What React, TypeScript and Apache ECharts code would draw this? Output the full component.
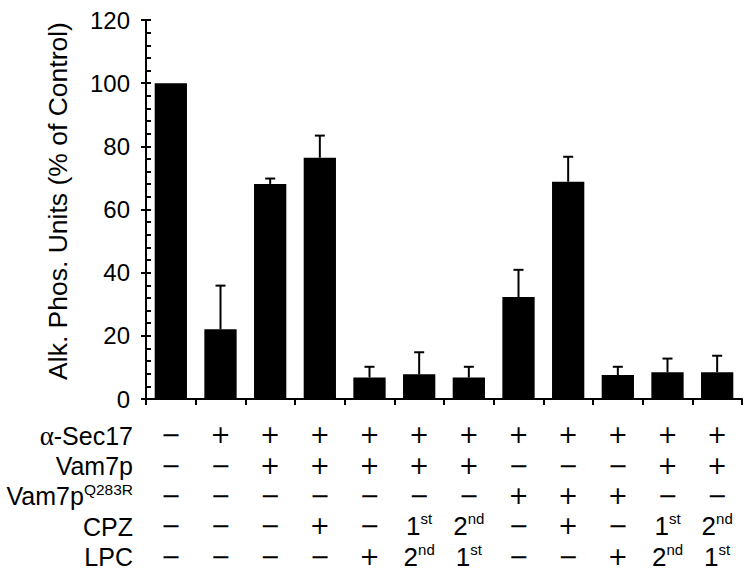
import React, { useEffect, useRef } from 'react';
import * as echarts from 'echarts';

const categories = ['1', '2', '3', '4', '5', '6', '7', '8', '9', '10', '11', '12'];
const values = [100, 22.1, 68.1, 76.4, 6.8, 7.8, 6.8, 32.3, 68.8, 7.6, 8.5, 8.5];
const errors = [0, 13.8, 1.7, 7.0, 3.4, 7.0, 3.4, 8.6, 7.9, 2.6, 4.3, 5.2];
const yTicks = { min: 0, max: 120, interval: 20 };
const yTitle = 'Alk. Phos. Units (% of Control)';

const rowLabels = ['{g|α}{m|-Sec17}', '{m|Vam7p}', '{m|Vam7p}{sup|Q283R}', '{m|CPZ}', '{m|LPC}'];
const rowSec17 = ['−', '+', '+', '+', '+', '+', '+', '+', '+', '+', '+', '+'];
const rowVam7p = ['−', '−', '+', '+', '+', '+', '+', '−', '−', '−', '+', '+'];
const rowQ283R = ['−', '−', '−', '−', '−', '−', '−', '+', '+', '+', '−', '−'];
const rowCPZ = ['−', '−', '−', '+', '−', '1st', '2nd', '−', '+', '−', '1st', '2nd'];
const rowLPC = ['−', '−', '−', '−', '+', '2nd', '1st', '−', '−', '+', '2nd', '1st'];
const tableRows = [rowSec17, rowVam7p, rowQ283R, rowCPZ, rowLPC];

const FONT = "'Liberation Sans', Arial, sans-serif";
const SIGN_FONT = "'DejaVu Sans', 'Liberation Sans', sans-serif";
const LINE_H = 30.4;
const FIRST_ROW_Y = 435.5;

function token(s: string): string {
  if (s === '+' || s === '−') return `{s|${s}}`;
  const m = s.match(/^(\d)(\D+)$/);
  if (m) return `{n|${m[1]}}{p|${m[2]}}`;
  return `{s|${s}}`;
}

export default function App() {
  const ref = useRef<HTMLDivElement>(null);
  useEffect(() => {
    if (!ref.current) return;
    const chart = echarts.init(ref.current, undefined, { renderer: 'svg' });
    const option: any = {
      animation: false,
      backgroundColor: '#fff',
      grid: { left: 146, right: 8, top: 20, bottom: 177, outerBoundsMode: 'none' },
      xAxis: {
        type: 'category',
        data: categories,
        boundaryGap: true,
        axisLine: { show: true, lineStyle: { color: '#000', width: 2 } },
        axisTick: { show: true, length: 6, lineStyle: { color: '#000', width: 2 } },
        axisLabel: {
          interval: 0,
          margin: 21,
          color: '#000',
          fontFamily: FONT,
          formatter: (_v: string, idx: number) => tableRows.map((r) => token(r[idx])).join('\n'),
          rich: {
            s: { fontSize: 24, fontFamily: SIGN_FONT, color: '#000', lineHeight: LINE_H },
            n: { fontSize: 26, fontFamily: FONT, color: '#000', lineHeight: LINE_H },
            p: { fontSize: 15, fontFamily: FONT, color: '#000', lineHeight: 25, verticalAlign: 'top' },
          },
        },
        splitLine: { show: false },
      },
      yAxis: [
        {
          type: 'value',
          min: yTicks.min,
          max: yTicks.max,
          interval: yTicks.interval,
          axisLine: { show: true, lineStyle: { color: '#000', width: 2 } },
          axisTick: { show: true, inside: true, length: 5, lineStyle: { color: '#000', width: 2 } },
          minorTick: { show: true, splitNumber: 5, length: 5, lineStyle: { color: '#000', width: 2 } },
          axisLabel: { color: '#000', fontSize: 24, fontFamily: FONT, margin: 16 },
          splitLine: { show: false },
        },
        {
          type: 'value',
          position: 'left',
          min: yTicks.min,
          max: yTicks.max,
          interval: yTicks.interval,
          axisLine: { show: false },
          axisTick: { show: true, inside: false, length: 5, lineStyle: { color: '#000', width: 2 } },
          axisLabel: { show: false },
          splitLine: { show: false },
        },
      ],
      series: [
        {
          type: 'bar',
          data: values,
          barWidth: '65%',
          itemStyle: { color: '#000' },
          z: 2,
        },
        {
          type: 'custom',
          z: 3,
          data: categories.map((_c, i) => [i, values[i], errors[i]]),
          renderItem: (_params: any, api: any) => {
            const x = api.value(0);
            const v = api.value(1);
            const e = api.value(2);
            if (!e) return null;
            const p0 = api.coord([x, v]);
            const p1 = api.coord([x, v + e]);
            return {
              type: 'group',
              children: [
                { type: 'line', shape: { x1: p0[0], y1: p0[1], x2: p1[0], y2: p1[1] }, style: { stroke: '#000', lineWidth: 2 } },
                { type: 'line', shape: { x1: p1[0] - 5, y1: p1[1], x2: p1[0] + 5, y2: p1[1] }, style: { stroke: '#000', lineWidth: 2 } },
              ],
            };
          },
        },
      ],
      graphic: [
        {
          type: 'text',
          x: 58,
          y: 201,
          rotation: Math.PI / 2,
          style: { text: yTitle, font: `26.5px ${FONT}`, fill: '#000', textAlign: 'center', textVerticalAlign: 'middle' },
        },
        ...rowLabels.map((t, i) => ({
          type: 'text',
          x: 133,
          y: FIRST_ROW_Y + i * LINE_H,
          style: {
            text: t,
            textAlign: 'right',
            textVerticalAlign: 'middle',
            fill: '#000',
            rich: {
              m: { fontSize: 25, fontFamily: FONT, fill: '#000', lineHeight: LINE_H },
              g: { fontSize: 27, fontFamily: "'Liberation Serif', 'DejaVu Serif', serif", fill: '#000', lineHeight: LINE_H },
              sup: { fontSize: 15.5, fontFamily: FONT, fill: '#000', lineHeight: 22, verticalAlign: 'top' },
            },
          },
        })),
      ],
    };
    chart.setOption(option);
    return () => chart.dispose();
  }, []);
  return <div ref={ref} style={{ position: 'fixed', left: 0, top: 0, width: 750, height: 576 }} />;
}
